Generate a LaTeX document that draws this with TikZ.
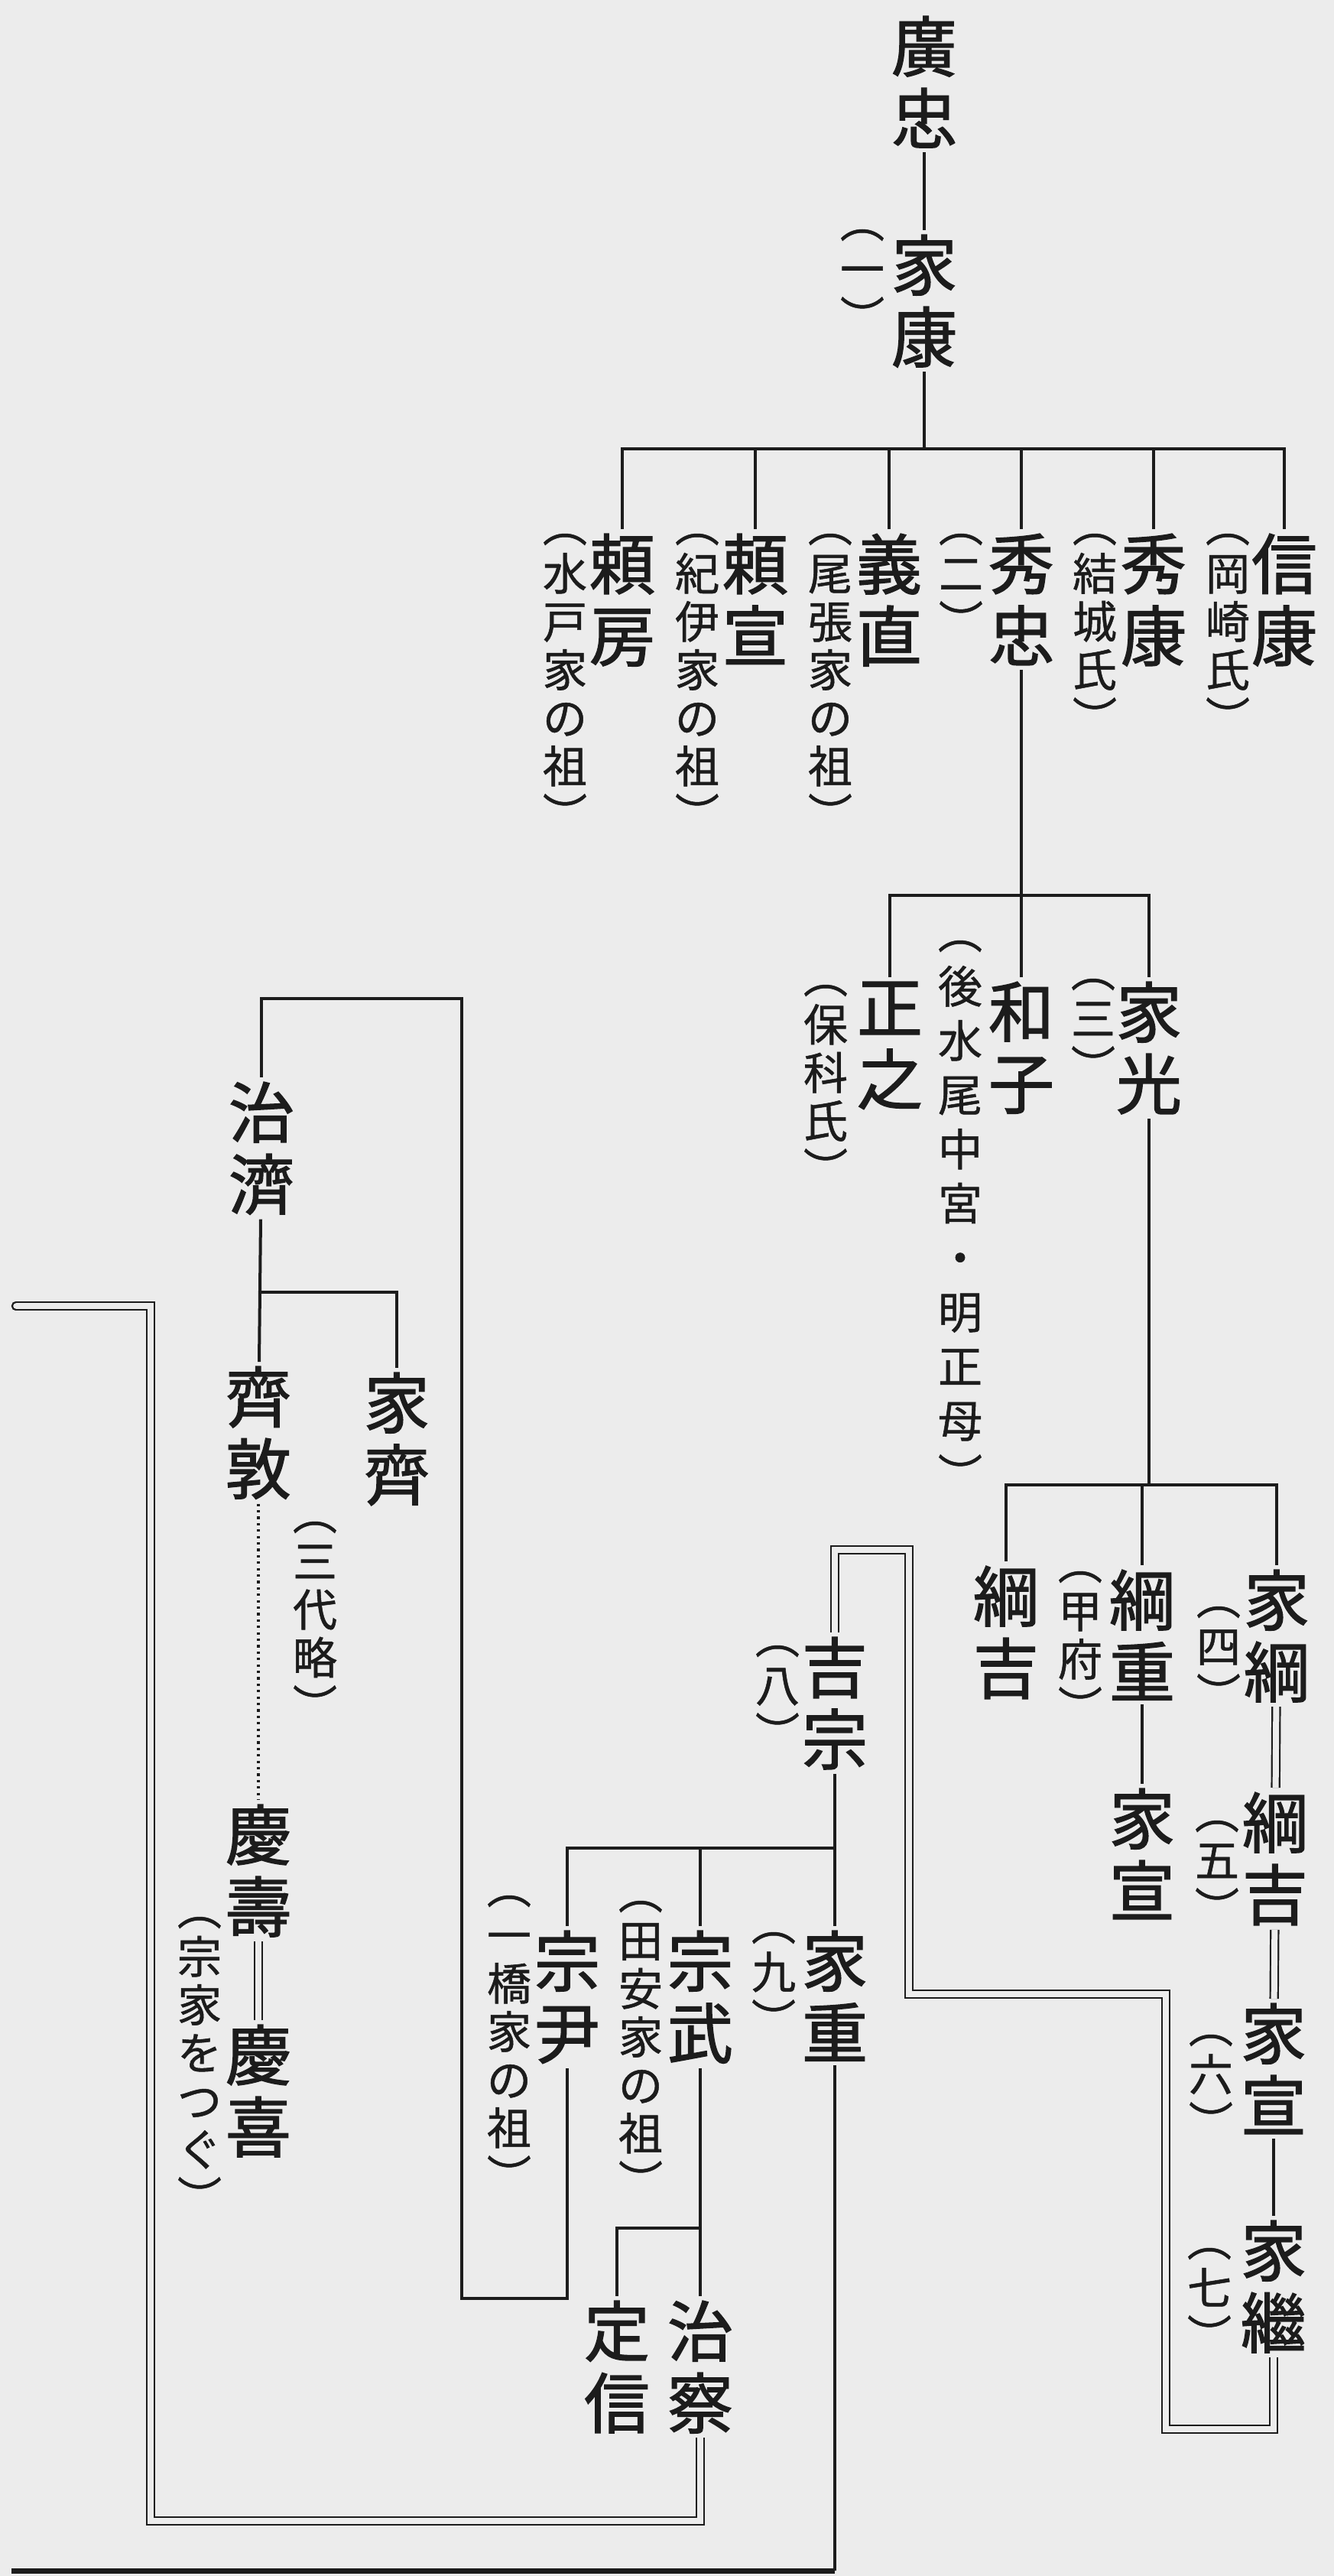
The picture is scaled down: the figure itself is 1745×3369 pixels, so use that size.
\documentclass[tikz,border=0pt]{standalone}
\usepackage{fontspec}
\setmainfont{Noto Sans CJK JP}
\newfontfamily\namefont{Noto Sans CJK JP}[FakeBold=1.6]
\newfontfamily\notefont{Noto Sans CJK JP}[FakeBold=0.9]
\definecolor{paper}{RGB}{236,236,236}
\definecolor{ink}{RGB}{28,28,28}
\begin{document}
\begin{tikzpicture}[x=0.5pt,y=-0.5pt,
  nm/.style={anchor=north, inner sep=0pt, outer sep=3pt, align=center, text=ink,
    font={\namefont\fontsize{43}{47}\selectfont\lineskiplimit=-100pt}},
  an/.style={anchor=north, inner sep=0pt, outer sep=2pt, align=center, text=ink,
    font={\notefont\fontsize{29}{31.5}\selectfont\lineskiplimit=-100pt}},
  anlong/.style={an, font={\notefont\fontsize{29}{35.5}\selectfont\lineskiplimit=-100pt}},
  ln/.style={draw=ink, line width=2pt},
  dbl/.style={draw=ink, double=paper, double distance=4pt, line width=1.1pt},
  dotln/.style={draw=ink, line width=1.7pt, dash pattern=on 1.6pt off 2.6pt}
]
\fill[paper] (0,0) rectangle (1745,3369);

% ---- names ----
\node[nm] (hirotada) at (1209,15) {廣\\忠};
\node[nm] (ieyasu) at (1209,301) {家\\康};
\node[an] (a01) at (1128,296) {︵\\一\\︶};

\node[nm] (yorifusa) at (814,692) {頼\\房};
\node[an] (a02) at (739,694) {︵\\水\\戸\\家\\の\\祖\\︶};
\node[nm] (yorinobu) at (988,692) {頼\\宣};
\node[an] (a03) at (912,694) {︵\\紀\\伊\\家\\の\\祖\\︶};
\node[nm] (yoshinao) at (1163,692) {義\\直};
\node[an] (a04) at (1086,694) {︵\\尾\\張\\家\\の\\祖\\︶};
\node[nm] (hidetada) at (1336,692) {秀\\忠};
\node[an] (a05) at (1257,694) {︵\\二\\︶};
\node[nm] (hideyasu) at (1509,692) {秀\\康};
\node[an] (a06) at (1432,694) {︵\\結\\城\\氏\\︶};
\node[nm] (nobuyasu) at (1680,692) {信\\康};
\node[an] (a07) at (1606,694) {︵\\岡\\崎\\氏\\︶};

\node[nm] (iemitsu) at (1503,1278) {家\\光};
\node[an] (a08) at (1430,1276) {︵\\三\\︶};
\node[nm] (kazuko) at (1336,1278) {和\\子};
\node[anlong] (a09) at (1256,1226) {︵\\後\\水\\尾\\中\\宮\\・\\明\\正\\母\\︶};
\node[nm] (masayuki) at (1164,1278) {正\\之};
\node[an] (a10) at (1080,1284) {︵\\保\\科\\氏\\︶};

\node[nm] (ietsuna) at (1670,2047) {家\\綱};
\node[an] (a11) at (1594,2097) {︵\\四\\︶};
\node[nm] (tsunashige) at (1494,2047) {綱\\重};
\node[an] (a12) at (1413,2051) {︵\\甲\\府\\︶};
\node[nm] (tsunayoshiA) at (1316,2042) {綱\\吉};
\node[nm] (ienobuA) at (1494,2333) {家\\宣};
\node[nm] (tsunayoshiB) at (1668,2338) {綱\\吉};
\node[an] (a13) at (1592,2377) {︵\\五\\︶};
\node[nm] (ienobuB) at (1666,2614) {家\\宣};
\node[an] (a14) at (1584,2657) {︵\\六\\︶};
\node[nm] (ietsugu) at (1666,2898) {家\\繼};
\node[an] (a15) at (1582,2936) {︵\\七\\︶};

\node[nm] (yoshimune) at (1092,2135) {吉\\宗};
\node[an] (a16) at (1017,2148) {︵\\八\\︶};
\node[nm] (ieshige) at (1092,2519) {家\\重};
\node[an] (a17) at (1012,2523) {︵\\九\\︶};
\node[nm] (munetake) at (916,2519) {宗\\武};
\node[an] (a18) at (838,2482) {︵\\田\\安\\家\\の\\祖\\︶};
\node[nm] (munetada) at (742,2519) {宗\\尹};
\node[an] (a19) at (666,2475) {︵\\一\\橋\\家\\の\\祖\\︶};
\node[nm] (harusato) at (916,3003) {治\\察};
\node[nm] (sadanobu) at (807,3003) {定\\信};

\node[nm] (harusada) at (342,1409) {治\\濟};
\node[nm] (naritoshi) at (338,1781) {齊\\敦};
\node[nm] (ienari) at (519,1789) {家\\齊};
\node[an] (a20) at (412,1986) {︵\\三\\代\\略\\︶};
\node[nm] (yoshihisa) at (338,2354) {慶\\壽};
\node[nm] (yoshinobu) at (338,2642) {慶\\喜};
\node[an] (a21) at (261,2503) {︵\\宗\\家\\を\\つ\\ぐ\\︶};

% ---- corner coordinates ----
\coordinate (b1) at (1209,587);
\coordinate (b2) at (1336,1171);
\coordinate (b3) at (1503,1942);
\coordinate (b4) at (1092,2417);
\coordinate (br) at (916,2914);
\coordinate (c1) at (742,3006);
\coordinate (c2) at (604,3006);
\coordinate (c3) at (604,1306);
\coordinate (c4) at (342,1306);
\coordinate (b5) at (342,1690);
\coordinate (d1) at (1666,3177);
\coordinate (d2) at (1525,3177);
\coordinate (d3) at (1525,2608);
\coordinate (d4) at (1189,2608);
\coordinate (d5) at (1189,2027);
\coordinate (d6) at (1092,2027);
\coordinate (e1) at (916,3297);
\coordinate (e2) at (197,3297);
\coordinate (e3) at (197,1708);
\coordinate (e4) at (21,1708);
\coordinate (f1) at (1092,3362);
\coordinate (f2) at (15,3362);

% ---- connectors ----
\draw[ln] (hirotada) -- (ieyasu);
\draw[ln] (ieyasu) -- (b1);
\draw[ln] (yorifusa) -- (yorifusa |- b1) -- (nobuyasu |- b1) -- (nobuyasu);
\foreach \n in {yorinobu,yoshinao,hidetada,hideyasu} \draw[ln] (\n) -- (\n |- b1);

\draw[ln] (hidetada) -- (b2);
\draw[ln] (masayuki) -- (masayuki |- b2) -- (iemitsu |- b2) -- (iemitsu);
\draw[ln] (kazuko) -- (kazuko |- b2);

\draw[ln] (iemitsu) -- (b3);
\draw[ln] (tsunayoshiA) -- (tsunayoshiA |- b3) -- (ietsuna |- b3) -- (ietsuna);
\draw[ln] (tsunashige) -- (tsunashige |- b3);
\draw[ln] (tsunashige) -- (ienobuA);
\draw[dbl] (ietsuna) -- (tsunayoshiB);
\draw[dbl] (tsunayoshiB) -- (ienobuB);
\draw[ln] (ienobuB) -- (ietsugu);
\draw[dbl] (ietsugu) -- (d1) -- (d2) -- (d3) -- (d4) -- (d5) -- (d6) -- (yoshimune);

\draw[ln] (yoshimune) -- (ieshige);
\draw[ln] (munetada) -- (munetada |- b4) -- (b4);
\draw[ln] (munetake) -- (munetake |- b4);
\draw[ln] (munetake) -- (harusato);
\draw[ln] (br) -- (sadanobu |- br) -- (sadanobu);
\draw[ln] (munetada) -- (c1) -- (c2) -- (c3) -- (c4) -- (harusada);

\draw[ln] (harusada) -- (naritoshi);
\draw[ln] (b5) -- (ienari |- b5) -- (ienari);
\draw[dotln] (naritoshi) -- (yoshihisa);
\draw[dbl] (yoshihisa) -- (yoshinobu);

\draw[dbl] (harusato) -- (e1) -- (e2) -- (e3) -- (e4);
\draw[draw=ink, line width=1.1pt] (e4) ++(0pt,2.55pt) arc[start angle=90, end angle=270, radius=2.55pt];
\draw[ln] (ieshige) -- (f1);
\draw[draw=ink, line width=3.5pt] (f1) -- (f2);
\end{tikzpicture}
\end{document}
